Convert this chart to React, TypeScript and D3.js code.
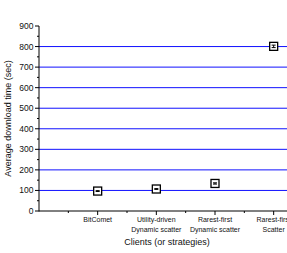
import React, { useRef, useEffect } from 'react';
import * as d3 from 'd3';

const categories = ['BitComet', 'Utility-driven|Dynamic scatter', 'Rarest-first|Dynamic scatter', 'Rarest-first|Scatter'];
const avgTimes = [97, 107, 134, 801];
const errors = [2, 2, 3, 6];
const yTicks = [0, 100, 200, 300, 400, 500, 600, 700, 800, 900];
const gridValues = [100, 200, 300, 400, 500, 600, 700, 800];

const App = () => {
  const svgRef = useRef(null);

  useEffect(() => {
    const width = 287;
    const height = 253;
    const svg = d3.select(svgRef.current);
    svg.selectAll('*').remove();
    svg.attr('width', width).attr('height', height);

    const font = 'Arial, "Liberation Sans", sans-serif';

    const x = d3.scaleLinear().domain([0, 4.5]).range([39, 303]);
    const y = d3.scaleLinear().domain([0, 900]).range([211, 26]);

    // horizontal blue grid lines
    svg.append('g')
      .selectAll('line')
      .data(gridValues)
      .join('line')
      .attr('x1', x(0)).attr('x2', width)
      .attr('y1', d => y(d)).attr('y2', d => y(d))
      .attr('stroke', '#1010ff')
      .attr('stroke-width', 1);

    // y axis
    const yAxis = svg.append('g');
    yAxis.append('line')
      .attr('x1', x(0)).attr('x2', x(0))
      .attr('y1', y(900)).attr('y2', y(0) + 0.5)
      .attr('stroke', '#000').attr('stroke-width', 1);
    yAxis.selectAll('.major')
      .data(yTicks)
      .join('line')
      .attr('x1', x(0) - 4).attr('x2', x(0))
      .attr('y1', d => y(d)).attr('y2', d => y(d))
      .attr('stroke', '#000');
    yAxis.selectAll('.minor')
      .data(d3.range(50, 900, 100))
      .join('line')
      .attr('x1', x(0) - 2).attr('x2', x(0))
      .attr('y1', d => y(d)).attr('y2', d => y(d))
      .attr('stroke', '#000');
    yAxis.selectAll('text')
      .data(yTicks)
      .join('text')
      .attr('x', x(0) - 5.5)
      .attr('y', d => y(d))
      .attr('dy', '0.35em')
      .attr('text-anchor', 'end')
      .attr('font-family', font)
      .attr('font-size', 8.5)
      .attr('fill', '#111')
      .text(d => d);

    // x axis
    const xAxis = svg.append('g');
    xAxis.append('line')
      .attr('x1', x(0)).attr('x2', width)
      .attr('y1', y(0)).attr('y2', y(0))
      .attr('stroke', '#000');
    xAxis.selectAll('.major')
      .data(categories.map((c, i) => i + 1))
      .join('line')
      .attr('x1', d => x(d)).attr('x2', d => x(d))
      .attr('y1', y(0)).attr('y2', y(0) + 4)
      .attr('stroke', '#000');
    xAxis.selectAll('.minor')
      .data(d3.range(0.5, 4.5, 1))
      .join('line')
      .attr('x1', d => x(d)).attr('x2', d => x(d))
      .attr('y1', y(0)).attr('y2', y(0) + 2)
      .attr('stroke', '#000');
    const labels = xAxis.selectAll('text')
      .data(categories)
      .join('text')
      .attr('x', (d, i) => x(i + 1))
      .attr('y', y(0) + 11)
      .attr('text-anchor', 'middle')
      .attr('font-family', font)
      .attr('font-size', 7)
      .attr('fill', '#111');
    labels.each(function (d) {
      const t = d3.select(this);
      const cx = t.attr('x');
      d.split('|').forEach((line, k) => {
        t.append('tspan').attr('x', cx).attr('dy', k === 0 ? 0 : 10).text(line);
      });
    });

    // titles
    svg.append('text')
      .attr('x', 167).attr('y', 245)
      .attr('text-anchor', 'middle')
      .attr('font-family', font)
      .attr('font-size', 9)
      .attr('fill', '#111')
      .text('Clients (or strategies)');
    svg.append('text')
      .attr('transform', `translate(11,${(y(0) + y(900)) / 2}) rotate(-90)`)
      .attr('text-anchor', 'middle')
      .attr('font-family', font)
      .attr('font-size', 9)
      .attr('fill', '#111')
      .text('Average download time (sec)');

    // markers with error bars
    const pts = svg.append('g')
      .selectAll('g')
      .data(avgTimes.map((v, i) => ({ i, v, e: errors[i] })))
      .join('g');
    pts.append('rect')
      .attr('x', d => x(d.i + 1) - 4)
      .attr('y', d => y(d.v) - 4)
      .attr('width', 8).attr('height', 8)
      .attr('fill', '#fff')
      .attr('stroke', '#000')
      .attr('stroke-width', 1.3);
    pts.append('line')
      .attr('x1', d => x(d.i + 1)).attr('x2', d => x(d.i + 1))
      .attr('y1', d => y(d.v + d.e)).attr('y2', d => y(d.v - d.e))
      .attr('stroke', '#000').attr('stroke-width', 1);
    [1, -1].forEach(s => {
      pts.append('line')
        .attr('x1', d => x(d.i + 1) - 2).attr('x2', d => x(d.i + 1) + 2)
        .attr('y1', d => y(d.v + s * d.e)).attr('y2', d => y(d.v + s * d.e))
        .attr('stroke', '#000').attr('stroke-width', 1);
    });
  }, []);

  return (
    <div style={{ position: 'absolute', left: 0, top: 0, width: 287, height: 253, background: '#fff' }}>
      <svg ref={svgRef} style={{ display: 'block' }}></svg>
    </div>
  );
};

export default App;
